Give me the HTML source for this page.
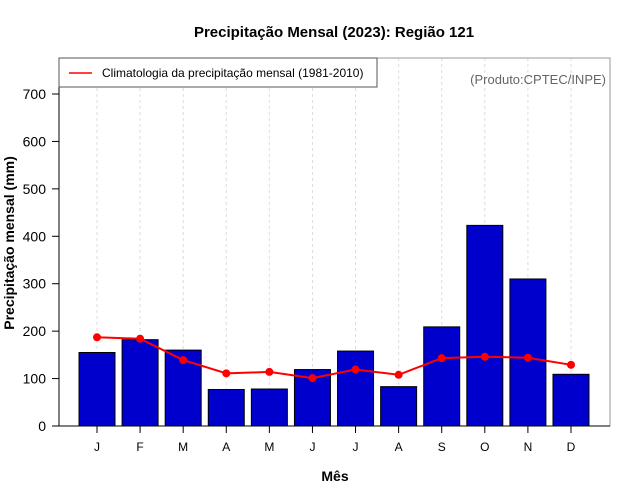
<!DOCTYPE html>
<html><head><meta charset="utf-8"><style>
body{margin:0;background:#fff;}
svg{display:block;font-family:"Liberation Sans",sans-serif;}
</style></head><body>
<svg id="chart" width="640" height="500">
<text x="334" y="37" text-anchor="middle" font-size="15" font-weight="bold">Precipitação Mensal (2023): Região 121</text>
<text x="335" y="481" text-anchor="middle" font-size="14" font-weight="bold">Mês</text>
<text transform="translate(14,243) rotate(-90)" text-anchor="middle" font-size="14" font-weight="bold">Precipitação mensal (mm)</text>
<g id="grid"></g>
<g id="bars"></g>
<g id="line"></g>
<rect x="59" y="58" width="551" height="368" fill="none" stroke="#999" stroke-width="1"/>
<line x1="59" y1="58" x2="59" y2="426" stroke="#000"/>
<line x1="59" y1="426" x2="610" y2="426" stroke="#000"/>
<g id="axes"></g>
<g>
<rect x="59" y="58" width="318" height="29" fill="#fff" stroke="#555"/>
<line x1="69" y1="73" x2="92" y2="73" stroke="#f00" stroke-width="1.5"/>
<text x="102" y="77" font-size="12">Climatologia da precipitação mensal (1981-2010)</text>
</g>
<text x="606" y="84" text-anchor="end" font-size="13" fill="#666">(Produto:CPTEC/INPE)</text>
</svg>
<script>
const months=["J","F","M","A","M","J","J","A","S","O","N","D"];
const observed=[155,182,160,77,78,119,158,83,209,423,310,109];
const climatology=[187,184,139,111,114,101,119,108,143,146,144,129];
const yTicks=[0,100,200,300,400,500,600,700];
const NS="http://www.w3.org/2000/svg";
function xs(i){return 97+i*43.09;}
function ys(v){return 426-v*(332/700);}
function mk(tag,attrs,parent){const e=document.createElementNS(NS,tag);for(const k in attrs)e.setAttribute(k,attrs[k]);document.getElementById(parent).appendChild(e);return e;}
months.forEach((m,i)=>{
 const g=mk("line",{x1:xs(i),x2:xs(i),y1:58,y2:426,stroke:"#ddd","stroke-dasharray":"3,3"},"grid");
 
 
 const b=mk("rect",{x:xs(i)-18,y:ys(observed[i]),width:36,height:ys(0)-ys(observed[i]),fill:"#0000cc",stroke:"#000","stroke-width":1},"bars");
 
 
 const t=mk("line",{x1:xs(i),x2:xs(i),y1:426,y2:433,stroke:"#000"},"axes");
 
 
 const l=mk("text",{x:xs(i),y:451,"text-anchor":"middle","font-size":12},"axes");l.textContent=m;
 
 
});
const p=mk("polyline",{points:climatology.map((v,i)=>xs(i)+","+ys(v)).join(" "),fill:"none",stroke:"#f00","stroke-width":2},"line");


climatology.forEach((v,i)=>{
 const c=mk("circle",{cx:xs(i),cy:ys(v),r:4,fill:"#f00"},"line");
 
 
});
yTicks.forEach(v=>{
 const t=mk("line",{x1:52,x2:59,y1:ys(v),y2:ys(v),stroke:"#000"},"axes");
 
 
 const l=mk("text",{x:46,y:ys(v)+5,"text-anchor":"end","font-size":14},"axes");l.textContent=v;
 
 
});
</script>
</body></html>
